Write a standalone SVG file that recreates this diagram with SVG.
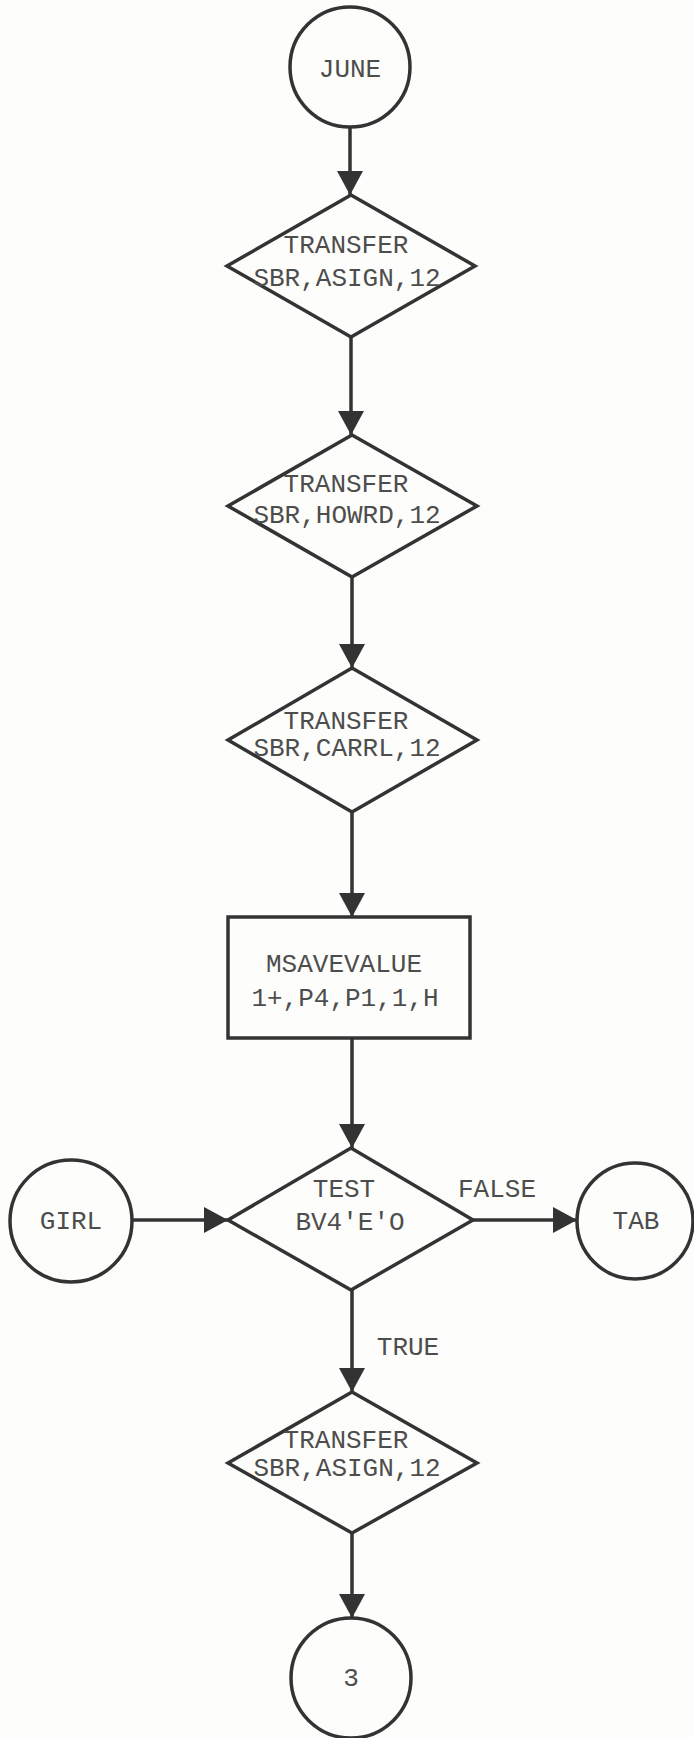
<svg xmlns="http://www.w3.org/2000/svg" width="694" height="1738" viewBox="0 0 694 1738">
<style>
.s{fill:none;stroke:#333;stroke-width:3.5}
.t{font-family:"Liberation Mono","DejaVu Sans Mono",monospace;font-size:26px;fill:#4d4d4d;text-anchor:middle}
.c{stroke:#333;stroke-width:3.5;fill:none}
</style>
<defs>
<marker id="ah" viewBox="0 0 24 26" refX="24" refY="13" markerWidth="24" markerHeight="26" markerUnits="userSpaceOnUse" orient="auto">
<path d="M0,0 L24,13 L0,26 Z" fill="#333"/>
</marker>
</defs>
<rect width="694" height="1738" fill="#fdfdfb"/>
<g id="connectors">
<line class="c" x1="350" y1="128" x2="350" y2="195" marker-end="url(#ah)"/>
<line class="c" x1="351" y1="337" x2="351" y2="435" marker-end="url(#ah)"/>
<line class="c" x1="352" y1="577" x2="352" y2="668" marker-end="url(#ah)"/>
<line class="c" x1="352" y1="812" x2="352" y2="917" marker-end="url(#ah)"/>
<line class="c" x1="352" y1="1038" x2="352" y2="1148" marker-end="url(#ah)"/>
<line class="c" x1="132" y1="1220" x2="228" y2="1220" marker-end="url(#ah)"/>
<line class="c" x1="473" y1="1220" x2="577" y2="1220" marker-end="url(#ah)"/>
<text class="t" x="497" y="1197">FALSE</text>
<line class="c" x1="352" y1="1290" x2="352" y2="1392" marker-end="url(#ah)"/>
<text class="t" x="408" y="1355">TRUE</text>
<line class="c" x1="352" y1="1533" x2="352" y2="1618" marker-end="url(#ah)"/>
</g>
<g id="june">
<circle class="s" cx="350" cy="67" r="60"/>
<text class="t" x="350" y="77">JUNE</text>
</g>
<g id="transfer1">
<polygon class="s" points="351,195 475,266 351,337 227,266"/>
<text class="t" x="346" y="253">TRANSFER</text>
<text class="t" x="347" y="286">SBR,ASIGN,12</text>
</g>
<g id="transfer2">
<polygon class="s" points="352,435 477,506 352,577 228,506"/>
<text class="t" x="346" y="492">TRANSFER</text>
<text class="t" x="347" y="523">SBR,HOWRD,12</text>
</g>
<g id="transfer3">
<polygon class="s" points="352,668 477,740 352,812 228,740"/>
<text class="t" x="346" y="729">TRANSFER</text>
<text class="t" x="347" y="756">SBR,CARRL,12</text>
</g>
<g id="msavevalue">
<rect class="s" x="228" y="917" width="242" height="121"/>
<text class="t" x="344" y="972">MSAVEVALUE</text>
<text class="t" x="345" y="1006">1+,P4,P1,1,H</text>
</g>
<g id="girl">
<circle class="s" cx="71" cy="1221" r="61"/>
<text class="t" x="71" y="1229">GIRL</text>
</g>
<g id="test">
<polygon class="s" points="351,1148 473,1220 351,1290 228,1220"/>
<text class="t" x="344" y="1197">TEST</text>
<text class="t" x="350" y="1230">BV4'E'O</text>
</g>
<g id="tab">
<circle class="s" cx="635" cy="1221" r="58"/>
<text class="t" x="636" y="1229">TAB</text>
</g>
<g id="transfer4">
<polygon class="s" points="352,1392 477,1463 352,1533 228,1463"/>
<text class="t" x="346" y="1448">TRANSFER</text>
<text class="t" x="347" y="1476">SBR,ASIGN,12</text>
</g>
<g id="three">
<circle class="s" cx="351" cy="1678" r="60"/>
<text class="t" x="351" y="1686">3</text>
</g>
</svg>
